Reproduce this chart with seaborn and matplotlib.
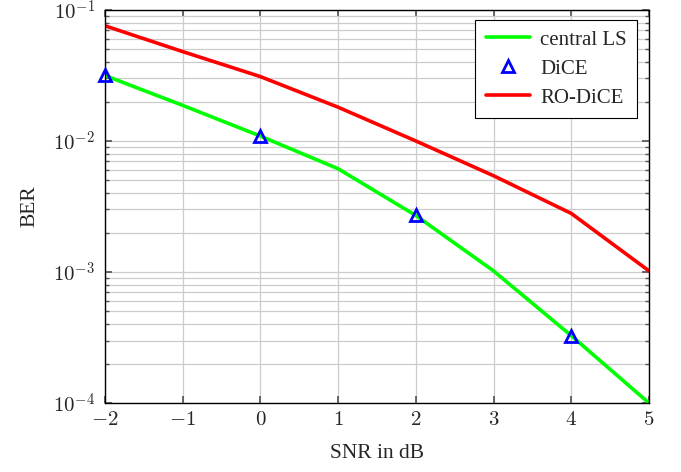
import numpy as np
import pandas as pd
import matplotlib
matplotlib.use('Agg')
import matplotlib.pyplot as plt
import seaborn as sns
from matplotlib.lines import Line2D
from matplotlib.ticker import LogLocator, NullFormatter, FuncFormatter

# data
snr = [-2, -1, 0, 1, 2, 3, 4, 5]
central_ls = [0.0316, 0.0187, 0.0109, 0.00614, 0.0027, 0.00102, 0.000327, 0.0001]
ro_dice = [0.0757, 0.0481, 0.0310, 0.0181, 0.0100, 0.00543, 0.0028, 0.00102]
dice_snr = [-2, 0, 2, 4]
dice = [0.0316, 0.0109, 0.0027, 0.000327]

sns.set_theme(style='white')
plt.rcParams['font.family'] = 'serif'
plt.rcParams['font.serif'] = ['Liberation Serif', 'DejaVu Serif']
plt.rcParams['mathtext.fontset'] = 'cm'

df = pd.DataFrame({'SNR': snr, 'central LS': central_ls, 'RO-DiCE': ro_dice})
df_dice = pd.DataFrame({'SNR': dice_snr, 'BER': dice})

fig = plt.figure(figsize=(6.81, 4.72), dpi=100)
ax = fig.add_axes([0.154, 0.146, 0.799, 0.833])

sns.lineplot(data=df, x='SNR', y='central LS', color='#00ff00', linewidth=2.6, ax=ax)
sns.lineplot(data=df, x='SNR', y='RO-DiCE', color='#ff0000', linewidth=2.6, ax=ax)
ax.plot(df_dice['SNR'], df_dice['BER'], linestyle='none', marker='^',
        markersize=9, markerfacecolor='none', markeredgecolor='#0000ff',
        markeredgewidth=2, zorder=5, clip_on=False)

ax.set_yscale('log')
ax.set_xlim(-2, 5)
ax.set_ylim(1e-4, 1e-1)
ax.set_xticks(range(-2, 6))
ax.xaxis.set_major_formatter(FuncFormatter(lambda v, p: r'$%d$' % round(v)))
ax.yaxis.set_major_locator(LogLocator(base=10, numticks=10))
ax.yaxis.set_major_formatter(
    FuncFormatter(lambda v, p: r'$10^{%d}$' % round(np.log10(v))))
ax.yaxis.set_minor_locator(LogLocator(base=10, subs=np.arange(2, 10), numticks=20))
ax.yaxis.set_minor_formatter(NullFormatter())

ax.grid(True, which='major', color='#cccccc', linewidth=0.9)
ax.grid(True, which='minor', axis='y', color='#cccccc', linewidth=0.9)
ax.tick_params(which='both', direction='in', top=True, right=True,
               bottom=True, left=True, labelsize=15, color='#555555')
ax.tick_params(which='major', length=5)
ax.tick_params(which='minor', length=3)
ax.tick_params(axis='y', pad=7)
ax.tick_params(axis='x', pad=6)
for s in ax.spines.values():
    s.set_color('black')
    s.set_linewidth(1.0)

ax.set_xlabel('SNR in dB', fontsize=15.5, labelpad=10)
ax.set_ylabel('BER', fontsize=15.5, labelpad=10)

handles = [
    Line2D([], [], color='#00ff00', linewidth=2.6),
    Line2D([], [], linestyle='none', marker='^', markersize=8,
           markerfacecolor='none', markeredgecolor='#0000ff', markeredgewidth=2),
    Line2D([], [], color='#ff0000', linewidth=2.6),
]
leg = ax.legend(handles, ['central LS', 'DiCE', 'RO-DiCE'], loc='upper right',
                bbox_to_anchor=(0.978, 0.975), fontsize=15, frameon=True,
                fancybox=False, edgecolor='black', framealpha=1,
                handlelength=2.1, handletextpad=0.5, borderpad=0.5,
                labelspacing=0.45, borderaxespad=0)
leg.get_frame().set_linewidth(0.8)

plt.savefig('out.png', dpi=100)
plt.close()
